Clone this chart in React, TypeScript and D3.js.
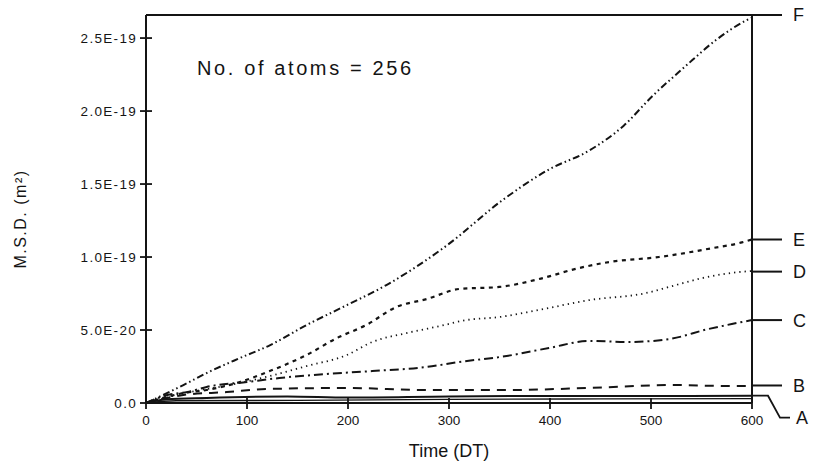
import * as d3 from "d3";
import { useEffect } from "react";

// time in DT, M.S.D. in m^2
const seriesF: [number, number][] = [
  [0, 0], [17, 5.5e-21], [37, 1.23e-20], [60, 2.05e-20], [93, 3.08e-20], [123, 3.97e-20],
  [159, 5.34e-20], [199, 6.71e-20], [238, 8.08e-20], [298, 1.08e-19], [353, 1.39e-19],
  [399, 1.6e-19], [439, 1.73e-19], [473, 1.9e-19], [501, 2.1e-19], [533, 2.3e-19],
  [565, 2.49e-19], [594, 2.62e-19], [600, 2.64e-19],
];
const seriesE: [number, number][] = [
  [0, 0], [37, 6.8e-21], [60, 8.9e-21], [93, 1.44e-20], [120, 2.12e-20], [159, 3.29e-20],
  [189, 4.45e-20], [218, 5.34e-20], [248, 6.58e-20], [278, 7.12e-20], [310, 7.81e-20],
  [350, 7.95e-20], [389, 8.49e-20], [429, 9.25e-20], [459, 9.66e-20], [508, 1.0e-19],
  [560, 1.06e-19], [590, 1.1e-19], [600, 1.12e-19],
];
const seriesD: [number, number][] = [
  [0, 0], [40, 7e-21], [80, 1.2e-20], [120, 1.8e-20], [159, 2.53e-20], [199, 3.29e-20],
  [224, 4.18e-20], [258, 4.79e-20], [291, 5.27e-20], [317, 5.68e-20], [350, 5.89e-20],
  [389, 6.37e-20], [439, 7.05e-20], [495, 7.53e-20], [521, 8.01e-20], [551, 8.56e-20],
  [587, 8.97e-20], [600, 9.04e-20],
];
const seriesC: [number, number][] = [
  [0, 0], [21, 5.5e-21], [41, 7.5e-21], [60, 1.1e-20], [100, 1.44e-20], [132, 1.71e-20],
  [179, 1.99e-20], [224, 2.19e-20], [278, 2.47e-20], [310, 2.81e-20], [357, 3.22e-20],
  [399, 3.77e-20], [439, 4.25e-20], [478, 4.18e-20], [518, 4.38e-20], [557, 5.07e-20],
  [580, 5.41e-20], [600, 5.68e-20],
];
const seriesB: [number, number][] = [
  [0, 0], [37, 5.5e-21], [80, 7.5e-21], [120, 9.6e-21], [199, 1.03e-20], [278, 8.9e-21],
  [357, 8.9e-21], [439, 1.03e-20], [521, 1.23e-20], [580, 1.16e-20], [600, 1.16e-20],
];
const seriesA: [number, number][] = [
  [0, 0], [20, 2.5e-21], [60, 3.5e-21], [140, 4.5e-21], [200, 3.8e-21], [300, 4.5e-21],
  [400, 4.8e-21], [500, 4.8e-21], [600, 5e-21],
];
const seriesA2: [number, number][] = [
  [0, 0], [30, 1.5e-21], [150, 1.8e-21], [300, 2.5e-21], [450, 2.8e-21], [600, 3e-21],
];

const curveNames = ["F", "E", "D", "C", "B", "A"];
const labelValues = [2.658e-19, 1.12e-19, 9.0e-20, 5.68e-20, 1.2e-20, 5e-21];

const xTicks = [0, 100, 200, 300, 400, 500, 600];
const yTicks = [0, 5e-20, 1e-19, 1.5e-19, 2e-19, 2.5e-19];
const yTickLabels = ["0.0", "5.0E-20", "1.0E-19", "1.5E-19", "2.0E-19", "2.5E-19"];
const yMax = 2.658e-19;

const ink = "#141414";
const font = "'Liberation Sans', Arial, sans-serif";

export default function App() {
  useEffect(() => {
    document.body.style.margin = "0";
  }, []);

  const x = d3.scaleLinear().domain([0, 600]).range([146, 752]);
  const y = d3.scaleLinear().domain([0, yMax]).range([403, 15]);

  const line = d3
    .line<[number, number]>()
    .x((d) => x(d[0]))
    .y((d) => y(d[1]))
    .curve(d3.curveMonotoneX);

  const curves = [
    { data: seriesF, dash: "7,3,1.5,3,1.5,3", w: 2 },
    { data: seriesE, dash: "4,4.5", w: 2.2 },
    { data: seriesD, dash: "1.3,4", w: 1.8 },
    { data: seriesC, dash: "9,4,2,4", w: 2 },
    { data: seriesB, dash: "9,7", w: 2 },
    { data: seriesA, dash: null, w: 2 },
    { data: seriesA2, dash: null, w: 1.4 },
  ];

  const [x0, x1] = x.range();
  const [yb, yt] = y.range();

  return (
    <svg width={814} height={468} style={{ display: "block", background: "#fff" }}>
      {/* frame */}
      <g stroke={ink} strokeWidth={2} fill="none">
        <line x1={x0} y1={yb} x2={x1} y2={yb} />
        <line x1={x0} y1={yb} x2={x0} y2={yt} />
        <line x1={x0} y1={yt} x2={x1} y2={yt} />
        <line x1={x1} y1={yb} x2={x1} y2={yt} />
      </g>

      {/* y ticks */}
      {yTicks.map((t, i) => (
        <g key={"y" + i}>
          <line x1={x0 - 6} x2={x0 + 6} y1={y(t)} y2={y(t)} stroke={ink} strokeWidth={1.8} />
          <text
            x={137}
            y={y(t)}
            dy="0.36em"
            textAnchor="end"
            fontFamily={font}
            fontSize={13.5}
            letterSpacing={1.3}
            fill={ink}
          >
            {yTickLabels[i]}
          </text>
        </g>
      ))}

      {/* x ticks */}
      {xTicks.map((t) => (
        <g key={"x" + t}>
          <line x1={x(t)} x2={x(t)} y1={yb - 5} y2={yb + 6} stroke={ink} strokeWidth={1.8} />
          <text
            x={x(t)}
            y={425}
            textAnchor="middle"
            fontFamily={font}
            fontSize={13.5}
            fill={ink}
          >
            {t}
          </text>
        </g>
      ))}

      {/* curves */}
      {curves.map((c, i) => (
        <path
          key={"c" + i}
          d={line(c.data) || ""}
          fill="none"
          stroke={ink}
          strokeWidth={c.w}
          strokeDasharray={c.dash || undefined}
          strokeLinecap="butt"
        />
      ))}

      {/* right-hand curve labels */}
      {curveNames.map((name, i) => {
        const ly = y(labelValues[i]);
        if (name === "A") {
          return (
            <g key={name}>
              <polyline
                points={`${x1},${ly} ${x1 + 16},${ly} ${x1 + 28},${ly + 22} ${x1 + 38},${ly + 22}`}
                fill="none"
                stroke={ink}
                strokeWidth={1.8}
              />
              <text x={x1 + 44} y={ly + 22} dy="0.36em" fontFamily={font} fontSize={18} fill={ink}>
                {name}
              </text>
            </g>
          );
        }
        return (
          <g key={name}>
            <line x1={x1} x2={x1 + 30} y1={ly} y2={ly} stroke={ink} strokeWidth={2} />
            <text x={x1 + 41} y={ly} dy="0.36em" fontFamily={font} fontSize={18} fill={ink}>
              {name}
            </text>
          </g>
        );
      })}

      {/* annotation */}
      <text
        x={197}
        y={75}
        fontFamily={font}
        fontSize={20}
        fill={ink}
        textLength={214}
        lengthAdjust="spacing"
      >
        No. of atoms = 256
      </text>

      {/* axis titles */}
      <text
        x={(x0 + x1) / 2}
        y={457}
        textAnchor="middle"
        fontFamily={font}
        fontSize={18}
        fill={ink}
      >
        Time (DT)
      </text>
      <text
        transform={`translate(26,${(yb + yt) / 2 + 10}) rotate(-90)`}
        textAnchor="middle"
        fontFamily={font}
        fontSize={16}
        fill={ink}
        letterSpacing={1.5}
      >
        M.S.D. (m²)
      </text>
    </svg>
  );
}
